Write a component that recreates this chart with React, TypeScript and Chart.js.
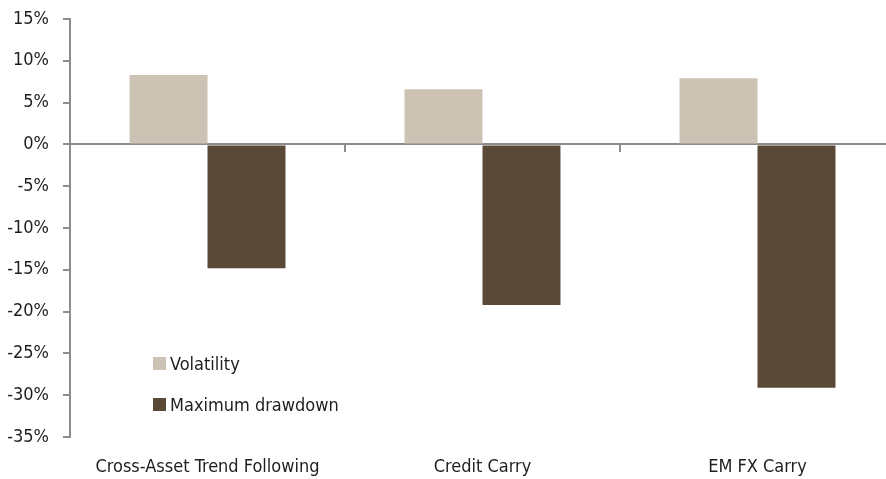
import React, { useEffect, useRef } from "react";
import { Chart, registerables } from "chart.js";

Chart.register(...registerables);

const categories = ["Cross-Asset Trend Following", "Credit Carry", "EM FX Carry"];
const volatility = [8.3, 6.6, 7.9];
const maxDrawdown = [-14.8, -19.2, -29.1];
const seriesNames = ["Volatility", "Maximum drawdown"];
const seriesColors = ["#CCC3B4", "#5A4936"];
const yMin = -35;
const yMax = 15;
const yStep = 5;

const FONT = "'Liberation Sans Narrow', 'DejaVu Sans Condensed', 'Roboto Condensed', sans-serif";
const AXIS = "#8C8C8C";
const TEXT = "#1e1e1e";

export default function App() {
  const ref = useRef<HTMLCanvasElement | null>(null);

  useEffect(() => {
    if (!ref.current) return;
    const chart = new Chart(ref.current, {
      type: "bar",
      data: {
        labels: categories,
        datasets: [
          { label: seriesNames[0], data: volatility, backgroundColor: seriesColors[0], xAxisID: "x", yAxisID: "y" },
          { label: seriesNames[1], data: maxDrawdown, backgroundColor: seriesColors[1], xAxisID: "x", yAxisID: "y" },
        ],
      },
      options: {
        animation: false,
        responsive: false,
        maintainAspectRatio: false,
        layout: { padding: { top: 19, right: 5, bottom: 2, left: 0 } },
        datasets: { bar: { categoryPercentage: 0.567, barPercentage: 1.0 } },
        plugins: { legend: { display: false }, tooltip: { enabled: false } },
        scales: {
          x: {
            type: "category",
            position: { y: 0 } as any,
            offset: true,
            afterFit: (s: any) => { s.height = 0; },
            ticks: { display: false },
            grid: { display: true, offset: true, drawOnChartArea: false, drawTicks: true, tickLength: 7, color: AXIS, lineWidth: 2 },
            border: { display: true, color: AXIS, width: 2 },
          },
          x2: {
            type: "category",
            position: "bottom",
            offset: true,
            afterFit: (s: any) => { s.height = 40; },
            grid: { display: false, drawTicks: false },
            border: { display: false },
            ticks: { color: TEXT, font: { family: FONT, size: 18 }, padding: 20, maxRotation: 0, autoSkip: false },
          },
          y: {
            type: "linear",
            min: yMin,
            max: yMax,
            afterFit: (s: any) => { s.width = 70; s.paddingTop = 0; s.paddingBottom = 0; },
            ticks: {
              stepSize: yStep,
              color: TEXT,
              padding: 14,
              font: { family: FONT, size: 18 },
              callback: (v: any) => `${v}%`,
            },
            grid: { display: true, drawOnChartArea: false, drawTicks: true, tickLength: 7, color: AXIS, lineWidth: 2 },
            border: { display: true, color: AXIS, width: 2 },
          },
        },
      },
    });
    return () => chart.destroy();
  }, []);

  const legendItem = (i: number, top: number) => (
    <div key={i} style={{ position: "absolute", left: 153, top, display: "flex", alignItems: "center", fontFamily: FONT, fontSize: 18, color: TEXT, whiteSpace: "nowrap" }}>
      <span style={{ display: "inline-block", width: 13, height: 13, background: seriesColors[i], marginRight: 4 }} />
      <span>{seriesNames[i]}</span>
    </div>
  );

  return (
    <div style={{ position: "fixed", left: 0, top: 0, width: 886, height: 479, overflow: "hidden", background: "#fff" }}>
      <canvas ref={ref} width={900} height={479} style={{ width: 900, height: 479, display: "block" }} />
      {legendItem(0, 353)}
      {legendItem(1, 394)}
    </div>
  );
}
